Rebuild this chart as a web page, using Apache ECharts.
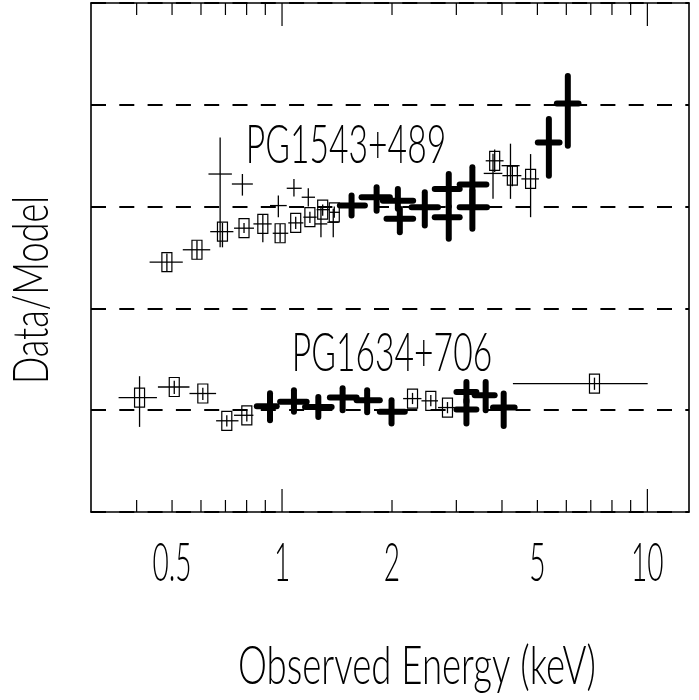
<!DOCTYPE html>
<html><head><meta charset="utf-8">
<script src="https://cdn.jsdelivr.net/npm/echarts@6/dist/echarts.min.js"></script>
<style>html,body{margin:0;padding:0;background:#fff}#c{width:699px;height:700px}</style>
</head><body><div id="c"></div>
<script>
// Each point: [energy keV, energy low, energy high, data/model (plotted), low, high]
const pg1543Boxed = [
  [0.484, 0.434, 0.535, 1.727, 1.68, 1.77],
  [0.585, 0.535, 0.636, 1.788, 1.742, 1.833],
  [0.687, 0.636, 0.736, 1.877, 1.80, 1.92],
  [0.787, 0.739, 0.838, 1.894, 1.87, 1.92],
  [0.886, 0.835, 0.937, 1.915, 1.825, 1.964],
  [0.988, 0.943, 1.040, 1.869, 1.825, 1.915],
  [1.090, 1.040, 1.144, 1.920, 1.89, 1.95],
  [1.192, 1.144, 1.244, 1.948, 1.92, 1.975],
  [1.292, 1.244, 1.350, 1.985, 1.955, 2.01],
  [1.390, 1.350, 1.440, 1.972, 1.945, 2.0],
  [3.82, 3.61, 4.04, 2.225, 2.17, 2.28],
  [4.27, 4.01, 4.52, 2.152, 2.10, 2.20],
  [4.79, 4.52, 5.05, 2.136, 1.948, 2.258]
];
const pg1543Thin = [
  [0.677, 0.629, 0.729, 2.160, 1.80, 2.34],
  [0.779, 0.729, 0.832, 2.111, 2.054, 2.16],
  [0.977, 0.927, 1.030, 2.005, 1.948, 2.054],
  [1.078, 1.030, 1.132, 2.090, 2.05, 2.136],
  [1.180, 1.132, 1.231, 2.046, 2.0, 2.09],
  [1.278, 1.231, 1.330, 1.915, 1.85, 1.997],
  [1.381, 1.330, 1.430, 1.923, 1.85, 1.99],
  [3.78, 3.565, 4.01, 2.163, 2.038, 2.26],
  [4.22, 3.99, 4.47, 2.201, 2.038, 2.309]
];
const pg1543Thick = [
  [1.55, 1.44, 1.686, 2.005, 1.956, 2.054],
  [1.815, 1.651, 1.973, 2.046, 1.980, 2.095],
  [2.075, 1.888, 2.285, 2.029, 1.99, 2.087],
  [2.101, 1.932, 2.285, 1.940, 1.874, 1.99],
  [2.459, 2.262, 2.673, 1.997, 1.907, 2.070],
  [2.86, 2.618, 3.064, 2.087, 2.0, 2.16],
  [2.86, 2.618, 3.064, 1.948, 1.842, 2.0],
  [3.319, 3.064, 3.625, 2.108, 2.0, 2.193],
  [3.319, 3.064, 3.639, 1.997, 1.891, 2.08],
  [5.375, 5.013, 5.749, 2.315, 2.152, 2.430],
  [6.057, 5.652, 6.479, 2.506, 2.299, 2.642]
];
const pg1634Boxed = [
  [0.4074, 0.357, 0.4546, 1.062, 0.918, 1.167],
  [0.507, 0.4574, 0.558, 1.114, 1.08, 1.145],
  [0.607, 0.558, 0.660, 1.082, 1.05, 1.11],
  [0.706, 0.660, 0.760, 0.948, 0.92, 0.975],
  [0.801, 0.739, 0.835, 0.975, 0.945, 1.005],
  [2.276, 2.145, 2.408, 1.057, 1.03, 1.085],
  [2.554, 2.408, 2.673, 1.046, 1.02, 1.075],
  [2.837, 2.673, 2.970, 1.013, 0.985, 1.04],
  [7.165, 4.285, 10.02, 1.131, 1.10, 1.16]
];
const pg1634Thick = [
  [0.927, 0.853, 0.967, 1.020, 0.951, 1.083],
  [1.078, 0.988, 1.168, 1.041, 0.992, 1.098],
  [1.257, 1.156, 1.367, 1.016, 0.966, 1.065],
  [1.465, 1.352, 1.600, 1.062, 1.000, 1.108],
  [1.710, 1.600, 1.852, 1.049, 0.990, 1.098],
  [1.994, 1.852, 2.168, 0.992, 0.935, 1.049],
  [3.197, 3.002, 3.404, 1.090, 1.040, 1.139],
  [3.197, 3.002, 3.404, 1.003, 0.935, 1.05],
  [3.609, 3.368, 3.819, 1.074, 1.000, 1.139],
  [4.043, 3.779, 4.331, 1.013, 0.922, 1.082]
];
const xMinorTicks = [0.4, 0.5, 0.6, 0.7, 0.8, 0.9, 2, 3, 4, 5, 6, 7, 8, 9];
const xMajorTicks = [1, 10];
const xTickLabels = ['0.5', '1', '2', '5', '10'];
const annotations = ['PG1543+489', 'PG1634+706'];
const xTitle = 'Observed Energy (keV)';
const yTitle = 'Data/Model';

const X_MIN = 0.3, X_MAX = 13, Y_MIN = 0.5, Y_MAX = 3.0;
const FONT = 'Lato, "DejaVu Sans", sans-serif';

function errRender(kind) {
  return function (params, api) {
    const x = api.value(0), xl = api.value(1), xh = api.value(2);
    const y = api.value(3), yl = api.value(4), yh = api.value(5);
    const c = api.coord([x, y]), a = api.coord([xl, y]), b = api.coord([xh, y]);
    const d = api.coord([x, yl]), e = api.coord([x, yh]);
    const thick = kind === 'thick';
    const st = { stroke: '#000', lineWidth: thick ? 6 : 1.3, lineCap: thick ? 'round' : 'butt' };
    const ch = [
      { type: 'line', shape: { x1: a[0], y1: a[1], x2: b[0], y2: b[1] }, style: st },
      { type: 'line', shape: { x1: d[0], y1: d[1], x2: e[0], y2: e[1] }, style: st }
    ];
    if (kind === 'boxed') {
      ch.push({ type: 'rect', shape: { x: c[0] - 5, y: c[1] - 9.5, width: 10, height: 19 },
        style: { fill: 'none', stroke: '#000', lineWidth: 1.2 } });
    }
    return { type: 'group', children: ch };
  };
}
function errSeries(data, kind) {
  return { type: 'custom', data: data, renderItem: errRender(kind), silent: true,
    encode: { x: [0, 1, 2], y: [3, 4, 5] }, clip: false, z: kind === 'thick' ? 3 : 2 };
}

// ticks: [value, majorFlag]; each item draws bottom and top inward tick marks plus (optionally) its label
const tickItems = xMinorTicks.map(function (v) { return [v, 0]; })
  .concat(xMajorTicks.map(function (v) { return [v, 1]; }));

const lineSt = { color: '#000', width: 1.6 };

const chart = echarts.init(document.getElementById('c'), null, { renderer: 'canvas' });
chart.setOption({
  animation: false,
  backgroundColor: '#fff',
  grid: { left: 91, right: 10, top: 3, bottom: 188 },
  xAxis: [
    { type: 'log', logBase: 10, min: X_MIN, max: X_MAX, position: 'bottom',
      axisLine: { show: true, lineStyle: lineSt }, axisTick: { show: false },
      axisLabel: { show: false }, splitLine: { show: false } },
    { type: 'log', logBase: 10, min: X_MIN, max: X_MAX, position: 'top',
      axisLine: { show: true, lineStyle: lineSt }, axisTick: { show: false },
      axisLabel: { show: false }, splitLine: { show: false } }
  ],
  yAxis: [
    { type: 'value', min: Y_MIN, max: Y_MAX, interval: 0.5, position: 'left',
      axisLine: { show: true, lineStyle: lineSt }, axisTick: { show: false }, axisLabel: { show: false },
      splitLine: { show: true, lineStyle: { color: '#000', width: 2, type: [15, 13.3] } } },
    { type: 'value', min: Y_MIN, max: Y_MAX, interval: 0.5, position: 'right',
      axisLine: { show: true, lineStyle: lineSt }, axisTick: { show: false }, axisLabel: { show: false },
      splitLine: { show: false } }
  ],
  series: [
    errSeries(pg1543Boxed, 'boxed'),
    errSeries(pg1543Thin, 'thin'),
    errSeries(pg1543Thick, 'thick'),
    errSeries(pg1634Boxed, 'boxed'),
    errSeries(pg1634Thick, 'thick'),
    {
      type: 'custom', silent: true, clip: false, z: 5,
      data: tickItems.map(function (t) { return [t[0], Y_MIN, t[1]]; }),
      encode: { x: 0, y: 1 },
      renderItem: function (params, api) {
        const v = api.value(0);
        const len = tickItems[params.dataIndex][1] ? 23 : 12;
        const b = api.coord([v, Y_MIN]);
        const t = api.coord([v, Y_MAX]);
        const ch = [
          { type: 'rect', shape: { x: b[0] - 0.6, y: b[1] - len, width: 1.2, height: len }, style: { fill: '#000' } },
          { type: 'rect', shape: { x: t[0] - 0.6, y: t[1], width: 1.2, height: len }, style: { fill: '#000' } }
        ];
        const li = xTickLabels.indexOf(String(v));
        if (li >= 0) {
          ch.push({ type: 'text', x: b[0], y: b[1] + 52, scaleX: 0.53,
            style: { text: xTickLabels[li], x: 0, y: 0, fill: '#000',
              font: '300 53px ' + FONT, align: 'center', verticalAlign: 'middle' } });
        }
        return { type: 'group', children: ch };
      }
    }
  ],
  graphic: [
    { type: 'text', x: 346, y: 146, scaleX: 0.635, silent: true,
      style: { text: annotations[0], fill: '#000', font: '300 53px ' + FONT, align: 'center', verticalAlign: 'middle' } },
    { type: 'text', x: 392, y: 354, scaleX: 0.635, silent: true,
      style: { text: annotations[1], fill: '#000', font: '300 53px ' + FONT, align: 'center', verticalAlign: 'middle' } },
    { type: 'text', x: 417, y: 667, scaleX: 0.69, silent: true,
      style: { text: xTitle, fill: '#000', font: '300 53px ' + FONT, align: 'center', verticalAlign: 'middle' } },
    { type: 'text', x: 32, y: 290, rotation: Math.PI / 2, scaleX: 0.72, silent: true,
      style: { text: yTitle, fill: '#000', font: '300 50px ' + FONT, align: 'center', verticalAlign: 'middle' } }
  ]
});
</script></body></html>
